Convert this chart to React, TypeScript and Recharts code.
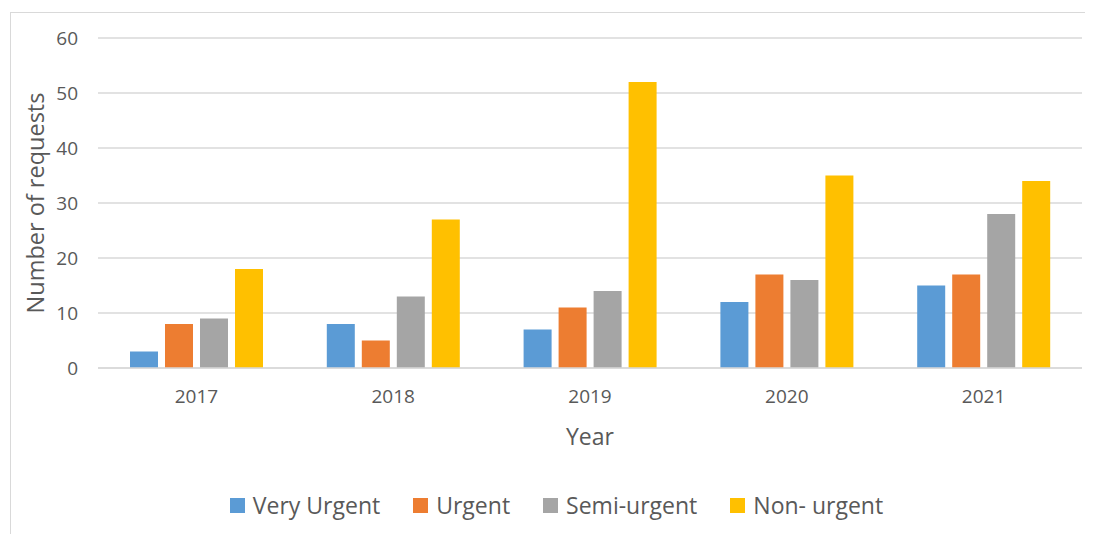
import { BarChart, Bar, XAxis, YAxis, CartesianGrid, Legend, Label } from 'recharts';

const years = ['2017', '2018', '2019', '2020', '2021'];
const veryUrgent = [3, 8, 7, 12, 15];
const urgent = [8, 5, 11, 17, 17];
const semiUrgent = [9, 13, 14, 16, 28];
const nonUrgent = [18, 27, 52, 35, 34];
const yTicks = [0, 10, 20, 30, 40, 50, 60];

const series = [
  { key: 'veryUrgent', name: 'Very Urgent', color: '#5b9bd5' },
  { key: 'urgent', name: 'Urgent', color: '#ed7d31' },
  { key: 'semiUrgent', name: 'Semi-urgent', color: '#a5a5a5' },
  { key: 'nonUrgent', name: 'Non- urgent', color: '#ffc000' },
];

const data = years.map((year, i) => ({
  year,
  veryUrgent: veryUrgent[i],
  urgent: urgent[i],
  semiUrgent: semiUrgent[i],
  nonUrgent: nonUrgent[i],
}));

const FONT = '"Open Sans", sans-serif';
const TEXT = '#595959';

function ChartLegend() {
  return (
    <div
      style={{
        display: 'flex',
        justifyContent: 'center',
        alignItems: 'center',
        gap: 33,
        height: 40,
        paddingLeft: 20,
        fontFamily: FONT,
        fontSize: 23,
        color: TEXT,
      }}
    >
      {series.map((s) => (
        <div key={s.key} style={{ display: 'flex', alignItems: 'center', gap: 8 }}>
          <span style={{ width: 15, height: 15, background: s.color, display: 'inline-block' }} />
          <span>{s.name}</span>
        </div>
      ))}
    </div>
  );
}

export default function App() {
  return (
    <div
      style={{
        marginLeft: 2,
        marginTop: 4,
        width: 1082,
        borderLeft: '1px solid #d9d9d9',
        borderTop: '1px solid #d9d9d9',
        background: '#fff',
      }}
    >
      <BarChart
        width={1082}
        height={521}
        data={data}
        margin={{ top: 25, right: 11, left: 0, bottom: 9 }}
        barCategoryGap={32}
        barGap={7}
      >
        <CartesianGrid vertical={false} stroke="#d9d9d9" strokeWidth={1.3} />
        <XAxis
          dataKey="year"
          height={117}
          axisLine={{ stroke: '#d9d9d9', strokeWidth: 1.3 }}
          tickLine={false}
          tickMargin={16}
          tick={{ fill: TEXT, fontSize: 19, fontFamily: FONT }}
        >
          <Label
            content={({ viewBox }: any) => (
              <text
                x={viewBox.x + viewBox.width / 2}
                y={viewBox.y + 68}
                textAnchor="middle"
                dominantBaseline="central"
                fill={TEXT}
                fontSize={23}
                fontFamily={FONT}
              >
                Year
              </text>
            )}
          />
        </XAxis>
        <YAxis
          width={87}
          domain={[0, 60]}
          ticks={yTicks}
          axisLine={false}
          tickLine={false}
          tickSize={0}
          tickMargin={20}
          tick={{ fill: TEXT, fontSize: 19, fontFamily: FONT }}
        >
          <Label
            content={({ viewBox }: any) => (
              <text
                x={24}
                y={viewBox.y + viewBox.height / 2}
                transform={`rotate(-90, 24, ${viewBox.y + viewBox.height / 2})`}
                textAnchor="middle"
                dominantBaseline="central"
                fill={TEXT}
                fontSize={23.5}
                fontFamily={FONT}
              >
                Number of requests
              </text>
            )}
          />
        </YAxis>
        <Legend verticalAlign="bottom" content={() => <ChartLegend />} />
        {series.map((s) => (
          <Bar key={s.key} dataKey={s.key} name={s.name} fill={s.color} isAnimationActive={false} />
        ))}
      </BarChart>
    </div>
  );
}
